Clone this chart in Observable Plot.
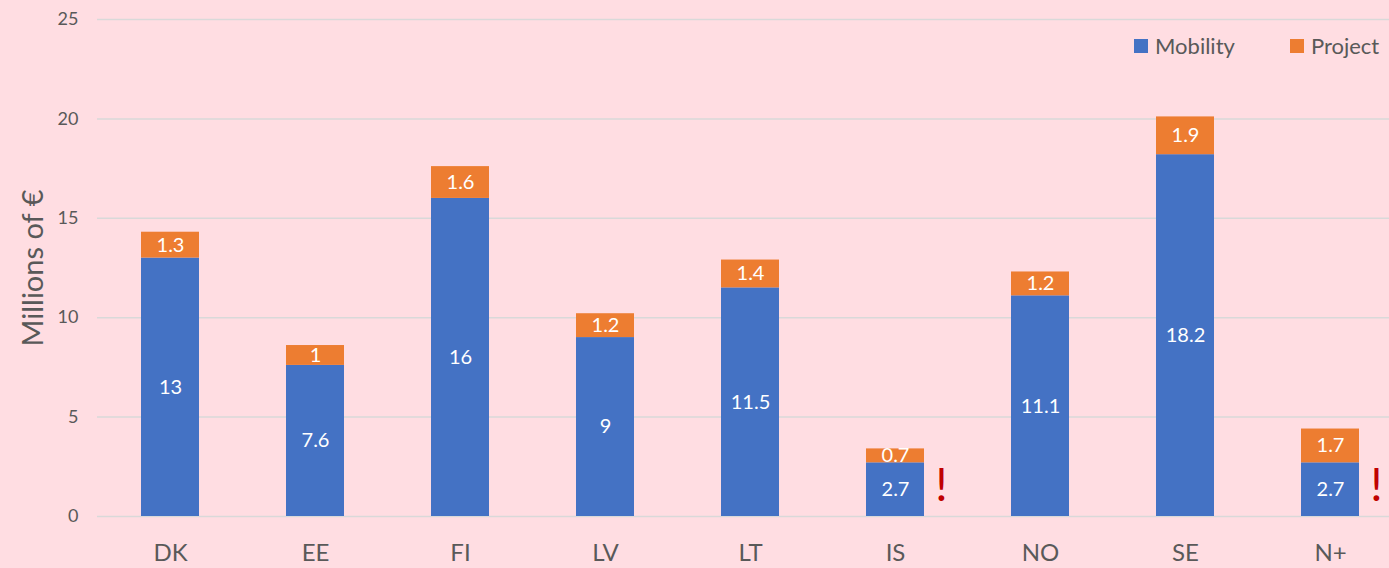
<!DOCTYPE html>
<html>
<head>
<meta charset="utf-8">
<script src="https://cdn.jsdelivr.net/npm/d3@7"></script>
<script src="https://cdn.jsdelivr.net/npm/@observablehq/plot@0.6"></script>
<style>
  html, body { margin: 0; padding: 0; background: #FFDDE2; overflow: hidden; }
  #wrap { position: relative; width: 1389px; height: 568px; font-family: Lato, "Open Sans", sans-serif; }
  #legend { position: absolute; top: 32px; left: 1134px; display: flex; font-size: 22px; line-height: 28px; color: #595959; }
  #legend .item { display: flex; align-items: center; }
  #legend .sw { width: 14px; height: 14px; display: inline-block; margin-right: 7px; }
</style>
</head>
<body>
<div id="wrap"><div id="legend"></div></div>
<script>
const categories = ["DK", "EE", "FI", "LV", "LT", "IS", "NO", "SE", "N+"];
const mobility = [13, 7.6, 16, 9, 11.5, 2.7, 11.1, 18.2, 2.7];
const project = [1.3, 1, 1.6, 1.2, 1.4, 0.7, 1.2, 1.9, 1.7];
const seriesNames = ["Mobility", "Project"];
const seriesColors = ["#4472C4", "#ED7D31"];
const flagged = ["IS", "N+"];
const yTicks = [0, 5, 10, 15, 20, 25];

const rows = [];
categories.forEach((c, i) => {
  rows.push({cat: c, series: "Mobility", value: mobility[i]});
  rows.push({cat: c, series: "Project", value: project[i]});
});

const font = "Lato, 'Open Sans', sans-serif";

const chart = Plot.plot({
  width: 1389,
  height: 568,
  marginLeft: 97,
  marginRight: -13,
  marginTop: 19,
  marginBottom: 52,
  style: {background: "#FFDDE2", fontFamily: font, overflow: "hidden"},
  x: {domain: categories, paddingInner: 0.6, paddingOuter: 0.3},
  y: {domain: [0, 25]},
  color: {domain: seriesNames, range: seriesColors},
  marks: [
    Plot.gridY(yTicks, {stroke: "#D9D9D9", strokeOpacity: 1, strokeWidth: 1.5}),
    Plot.axisY(yTicks, {tickSize: 0, tickPadding: 19, fontSize: 18, color: "#595959", label: null}),
    Plot.axisX({tickSize: 0, tickPadding: 27, fontSize: 24, color: "#595959", label: null}),
    Plot.barY(rows, {x: "cat", y: "value", fill: "series", order: seriesNames}),
    Plot.text(rows, Plot.stackY({x: "cat", y: "value", z: "series", order: seriesNames, text: d => String(d.value), fill: "white", fontSize: 20})),
    Plot.text(flagged, {x: d => d, y: () => 0, text: () => "!", fill: "#C00000", fontSize: 46, dx: 46, dy: -30}),
    Plot.text(["Millions of €"], {frameAnchor: "left", textAnchor: "middle", dx: -64, rotate: -90, fontSize: 29, fill: "#595959"})
  ]
});

document.getElementById("wrap").prepend(chart);

const legend = document.getElementById("legend");
seriesNames.forEach((s, i) => {
  const item = document.createElement("div");
  item.className = "item";
  item.style.marginRight = i === 0 ? "55px" : "0";
  const sw = document.createElement("span");
  sw.className = "sw";
  sw.style.background = seriesColors[i];
  const t = document.createElement("span");
  t.textContent = s;
  item.append(sw, t);
  legend.append(item);
});
</script>
</body>
</html>
